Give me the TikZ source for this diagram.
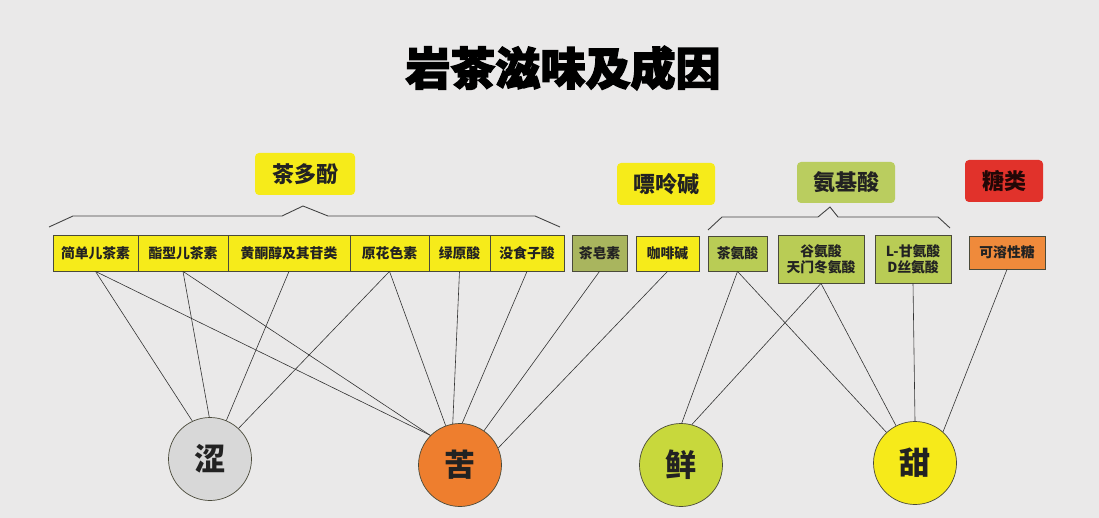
\documentclass[tikz,border=0pt]{standalone}
\usepackage{fontspec}
\setmainfont{Noto Sans CJK SC}
\newfontfamily\titlefont{Noto Sans CJK SC}[BoldFeatures={FakeBold=3}]
\definecolor{bg}{HTML}{EAE9E9}
\definecolor{yel}{HTML}{F6EB1A}
\definecolor{grn}{HTML}{B9CC55}
\definecolor{olv}{HTML}{A9B55E}
\definecolor{gcat}{HTML}{BACD5F}
\definecolor{xian}{HTML}{C8D83C}
\definecolor{tian}{HTML}{F6EA1A}
\definecolor{ku}{HTML}{EE7E2E}
\definecolor{se}{HTML}{D8D8D8}
\definecolor{sug}{HTML}{EF8A3B}
\definecolor{red}{HTML}{E1322B}
\definecolor{txt}{HTML}{222222}
\definecolor{edge}{HTML}{4A4A3A}
\definecolor{lk}{HTML}{333333}
\definecolor{br}{HTML}{444444}
\begin{document}
\begin{tikzpicture}[x=1pt,y=-1pt,
  cat/.style={rounded corners=4pt, minimum height=42pt, inner sep=0pt,
    font=\fontsize{22}{24}\selectfont\bfseries, text=txt},
  sub/.style={draw=edge, line width=0.8pt, inner sep=0pt, align=center,
    font=\fontsize{13.8}{16}\selectfont\bfseries, text=txt},
  taste/.style={circle, draw=edge, line width=0.7pt, minimum size=83pt, inner sep=0pt,
    font=\fontsize{31}{31}\selectfont\bfseries, text=txt},
  link/.style={draw=lk, line width=0.6pt},
  brace/.style={draw=br, line width=0.9pt}]
\fill[bg] (0,0) rectangle (1099,518);
\useasboundingbox (0,0) rectangle (1099,518);

% title
\node[font=\titlefont\bfseries\fontsize{45}{47}\selectfont, text=black] (title) at (563,68) {岩茶滋味及成因};

% categories
\node[cat, fill=yel, minimum width=100pt] (c1) at (305,174) {茶多酚};
\node[cat, fill=yel, minimum width=98pt] (c2) at (666,184) {嘌呤碱};
\node[cat, fill=gcat, minimum width=98pt, minimum height=41pt] (c3) at (846,182.5) {氨基酸};
\node[cat, fill=red, minimum width=78pt, text=black!85!red] (c4) at (1004,181) {糖类};

% braces
\draw[brace] (49,227) -- (73,216) -- (282,216) -- (303,206) -- (328,216) -- (535,216) -- (560,227);
\draw[brace] (708,230) -- (722,217) -- (818,217) -- (830,207) -- (838,217) -- (938,217) -- (950,228);

% sub items
\node[sub, fill=yel, minimum width=85pt, minimum height=36pt] (s1) at (95.5,253) {简单儿茶素};
\node[sub, fill=yel, minimum width=90pt, minimum height=36pt] (s2) at (183,253) {酯型儿茶素};
\node[sub, fill=yel, minimum width=122pt, minimum height=36pt] (s3) at (289,253) {黄酮醇及其苷类};
\node[sub, fill=yel, minimum width=79pt, minimum height=36pt] (s4) at (389.5,253) {原花色素};
\node[sub, fill=yel, minimum width=61pt, minimum height=36pt] (s5) at (459.5,253) {绿原酸};
\node[sub, fill=yel, minimum width=74pt, minimum height=36pt] (s6) at (527,253) {没食子酸};
\node[sub, fill=olv, minimum width=55pt, minimum height=36pt] (s7) at (599.5,253) {茶皂素};
\node[sub, fill=yel, minimum width=63pt, minimum height=35pt] (s8) at (667.5,253.5) {咖啡碱};
\node[sub, fill=grn, minimum width=59pt, minimum height=35pt] (s9) at (737.5,253.5) {茶氨酸};
\node[sub, fill=grn, minimum width=86pt, minimum height=48pt] (s10) at (821,259) {谷氨酸\\天门冬氨酸};
\node[sub, fill=grn, minimum width=76pt, minimum height=48pt] (s11) at (913,259) {L-甘氨酸\\D丝氨酸};
\node[sub, fill=sug, minimum width=76pt, minimum height=33pt] (s12) at (1007,252.5) {可溶性糖};

% tastes
\node[taste, fill=se] (t1) at (210,459) {涩};
\node[taste, fill=ku] (t2) at (460,465) {苦};
\node[taste, fill=xian] (t3) at (681,465) {鲜};
\node[taste, fill=tian] (t4) at (915,463) {甜};

% links
\draw[link] (s1.south) -- (t1.115);
\draw[link] (s2.south) -- (t1.91);
\draw[link] (s3.south) -- (t1.67);
\draw[link] (s4.south) -- (t1.47);

\draw[link] (s1.south) -- (t2.135);
\draw[link] (s2.south) -- (t2.135);
\draw[link] (s4.south) -- (t2.110);
\draw[link] (s5.south) -- (t2.100);
\draw[link] (s6.south) -- (t2.87);
\draw[link] (s7.south) -- (t2.55);
\draw[link] (s8.south) -- (t2.24);

\draw[link] (s9.south) -- (t3.89);
\draw[link] (s10.south) -- (t3.75);

\draw[link] (s9.south) -- (t4.133);
\draw[link] (s10.south) -- (t4.117);
\draw[link] (s11.south) -- (t4.90);
\draw[link] (s12.south) -- (t4.48);
\end{tikzpicture}
\end{document}
